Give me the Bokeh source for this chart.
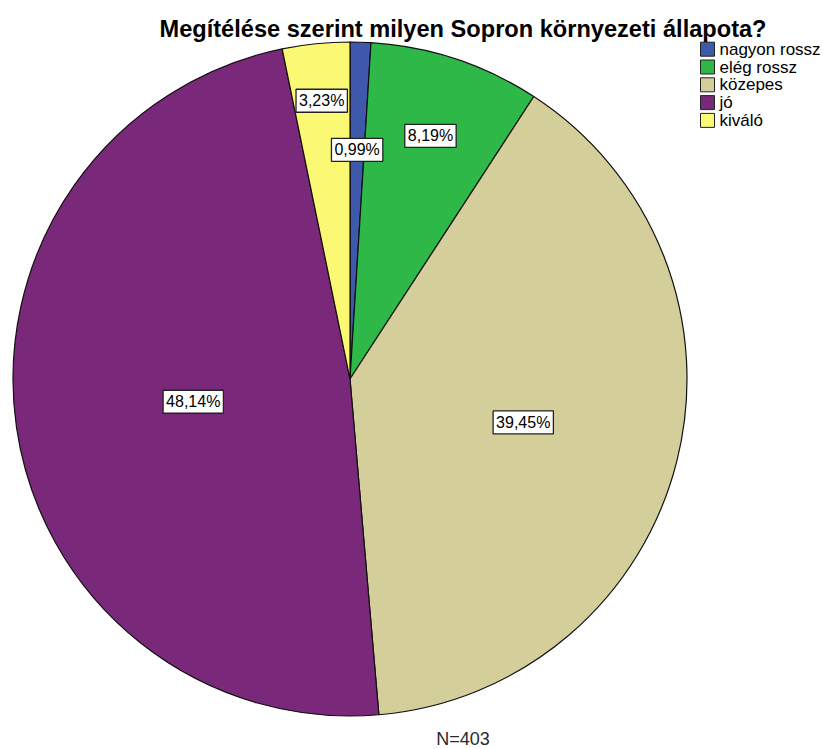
import math
from bokeh.plotting import figure
from bokeh.models import Range1d, ColumnDataSource, Label
from bokeh.core.properties import value
from bokeh.embed import file_html
from bokeh.resources import INLINE

# ---- data ----
title_text = "Megítélése szerint milyen Sopron környezeti állapota?"
categories = ["nagyon rossz", "elég rossz", "közepes", "jó", "kiváló"]
counts = [4, 33, 159, 194, 13]
colors = ["#3E58AC", "#2EB848", "#D4CE9B", "#79287A", "#FBF873"]
n_total = sum(counts)

# ---- layout (picture px -> data: x = px, y = 749 - py) ----
W, H = 823, 749
cx, cy, R = 349.5, 370.5, 337
label_r_frac = [0.68, 0.76, 0.53, 0.47, 0.83]
FONT = "Liberation Sans"
leg_x, leg_y0, leg_step, leg_box = 707, 749 - 48.7, 17.8, 14

shares = [c / n_total for c in counts]
starts, ends, mids = [], [], []
cum = 0.0
for s in shares:
    a0 = math.pi / 2 - 2 * math.pi * cum
    a1 = math.pi / 2 - 2 * math.pi * (cum + s)
    starts.append(a1)
    ends.append(a0)
    mids.append((a0 + a1) / 2)
    cum += s

pct_labels = [("%.2f%%" % (100 * s)).replace(".", ",") for s in shares]
lx = [cx + f * R * math.cos(m) for f, m in zip(label_r_frac, mids)]
ly = [cy + f * R * math.sin(m) for f, m in zip(label_r_frac, mids)]

src = ColumnDataSource(dict(cat=categories, start=starts, end=ends, color=colors,
                            x=[cx] * len(categories), y=[cy] * len(categories)))
lsrc = ColumnDataSource(dict(x=lx, y=ly, text=pct_labels))
legsrc = ColumnDataSource(dict(
    x=[leg_x] * len(categories),
    y=[leg_y0 - i * leg_step for i in range(len(categories))],
    tx=[leg_x + leg_box / 2 + 5] * len(categories),
    text=categories, color=colors))

p = figure(width=W, height=H, output_backend="svg", toolbar_location=None,
           x_range=Range1d(0, W), y_range=Range1d(0, H),
           min_border=0, min_border_left=0, min_border_right=0,
           min_border_top=0, min_border_bottom=0)
p.axis.visible = False
p.grid.visible = False
p.outline_line_color = None
p.background_fill_color = "white"
p.border_fill_color = "white"

p.wedge(x="x", y="y", radius=R, start_angle="start", end_angle="end",
        fill_color="color", line_color="#111111", line_width=1.2, source=src)

p.text(x="x", y="y", text="text", source=lsrc, text_align="center",
       text_baseline="middle", text_font=value(FONT), text_font_size="16px",
       text_color="black", background_fill_color="white",
       border_line_color="#222222", border_line_width=1.3, padding=3)

# legend
p.rect(x="x", y="y", width=leg_box, height=leg_box, source=legsrc,
       fill_color="color", line_color="#222222", line_width=1)
p.text(x="tx", y="y", text="text", source=legsrc, text_align="left",
       text_baseline="middle", text_font=value(FONT), text_font_size="17px",
       text_color="black")

p.add_layout(Label(x=462.5, y=721, text=title_text, text_align="center",
                   text_baseline="alphabetic", text_font=FONT,
                   text_font_size="23.6px", text_font_style="bold",
                   text_color="black"))
p.add_layout(Label(x=462.5, y=11, text="N=%d" % n_total, text_align="center",
                   text_baseline="alphabetic", text_font=FONT,
                   text_font_size="18px", text_color="#2a2a2a"))

open("out.html", "w").write(file_html(p, INLINE))
